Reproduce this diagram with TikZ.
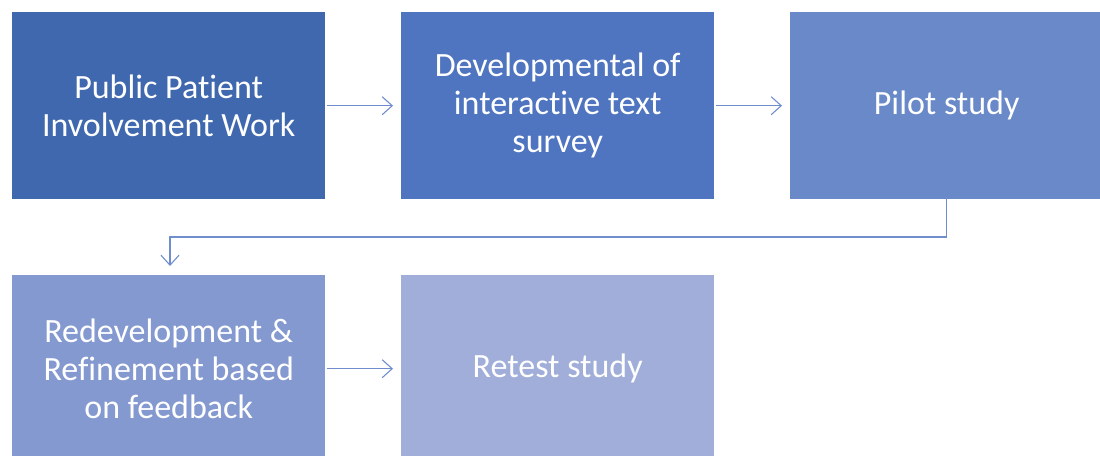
\documentclass[tikz,border=0pt]{standalone}
\usepackage{fontspec}
\setmainfont{Carlito}[Ligatures=NoCommon]
\usetikzlibrary{arrows.meta}
\definecolor{c1}{RGB}{63,104,175}
\definecolor{c2}{RGB}{79,117,192}
\definecolor{c3}{RGB}{106,137,200}
\definecolor{c4}{RGB}{132,153,208}
\definecolor{c5}{RGB}{160,174,217}
\definecolor{ln}{RGB}{112,142,206}
\tikzset{
  box/.style={minimum width=313pt,minimum height=187pt,inner sep=0pt,text=white,align=center,
    font=\fontsize{34pt}{38pt}\selectfont,anchor=north west},
  conn/.style={draw=ln,line width=1.1pt,-{Straight Barb[length=10pt,width=18pt,line width=1.1pt]}}
}
\begin{document}
\begin{tikzpicture}[x=1pt,y=-1pt]
\useasboundingbox (0,0) rectangle (1100,455);
\clip (0,0) rectangle (1100,455);
\node[box,fill=c1] (b1) at (12,12) {Public Patient\\Involvement Work};
\node[box,fill=c2] (b2) at (401,12) {Developmental of\\interactive text\\survey};
\node[box,fill=c3] (b3) at (790,12) {Pilot study};
\node[box,fill=c4] (b4) at (12,275) {Redevelopment \&\\Refinement based\\on feedback};
\node[box,fill=c5] (b5) at (401,275) {Retest study};
\coordinate (t) at (170,266);
\draw[conn] ([xshift=2pt]b1.east) -- ([xshift=-8pt]b2.west);
\draw[conn] ([xshift=2pt]b2.east) -- ([xshift=-8pt]b3.west);
\draw[conn] ([xshift=2pt]b4.east) -- ([xshift=-8pt]b5.west);
\draw[conn] ([yshift=2pt]b3.south) |- (170,237) -- (t);
\end{tikzpicture}
\end{document}
